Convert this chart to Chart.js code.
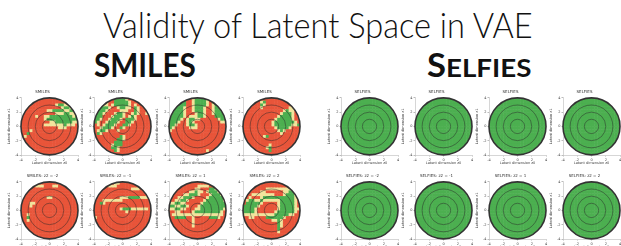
<!DOCTYPE html>
<html>
<head>
<meta charset="utf-8">
<script src="https://cdn.jsdelivr.net/npm/chart.js@4.4.1/dist/chart.umd.min.js"></script>
<style>
html, body { margin: 0; padding: 0; background: #fff; width: 621px; height: 246px; overflow: hidden; }
#stage { position: relative; width: 621px; height: 246px; }
.hd { position: absolute; white-space: nowrap; font-family: Lato, 'Open Sans', sans-serif; color: #111; line-height: 1; transform-origin: 0 0; }
canvas { position: absolute; }
</style>
</head>
<body>
<div id="stage">
  <div class="hd" id="title" style="left:103px; top:7px; font-size:35px; font-weight:300;">Validity of Latent Space in VAE</div>
  <div class="hd" id="smiles" style="left:94px; top:49px; font-size:32px; font-weight:700;">SMILES</div>
  <div class="hd" id="selfies" style="left:427px; top:49px; font-size:32px; font-weight:700;">S<span style="font-size:0.8em">ELFIES</span></div>
</div>
<script>
// validity grids, 20 x 20 cells over [-4, 4]^2, row 0 = top
// r = invalid, g = valid, y = boundary
const smilesTop1 = [
    'rrrrrrrrrrrrrrrrrrrr',
    'rrrrrrrrrrrrrrrrrrrr',
    'rrrrrrrrrrrryggyyrrr',
    'rrrrrrrrrrrrrryggyyr',
    'rrrrrrrrryyggggyyggr',
    'rrrrrrrrrrrryyyggyyg',
    'rrrrryrryyggggggggyg',
    'rrrrrrrryggggggggggg',
    'rrrrrrrrrryyggggggyy',
    'rrrrrrrryyyyyyygyyyr',
    'rrrrrrrrrrrrryyyrrrr',
    'rrryrrrrrrrrrrrrrrrr',
    'rrgrrrrrrrrrrrrrrrrr',
    'ryrrrrrrrrrrrrrrrrrr',
    'rrrrrrrrrrrrrrrrrrrr',
    'rrrrrrrrrrrrrrrrrrrr',
    'rrrrrrrrrrrrrrrrrrrr',
    'rrrrrrrrrrrrrrrrrrrr',
    'rrrrrrrrrrrrrrrrrrrr',
    'rrrrrrrrrrrrrrrrrrrr'
];
const smilesTop2 = [
    'rrrrrrrggggyrrrrrrrr',
    'rrrryrrgggggyrrrrrrr',
    'rrryyrygggggyryrrrrr',
    'rrgggyrryggyyrgyrrrr',
    'rgggyrrrryyyrrgyrrrr',
    'rggyrrryggyrrygyrryr',
    'gggrrrygggyrygyrrrrr',
    'ggyrrygggyrgggyrrrrr',
    'gyrrygggyrrggyrrrrrr',
    'ryrygggyrrggyrrrrrrr',
    'rrygggyrrgyrrrrrrrrr',
    'ryggyrrryrrrrrrrrrrr',
    'rgyrrrrrrrrrrrrrrrrr',
    'rrrrrrrrrgyrrrrrrrrr',
    'rrrrrrrrggyrrrrrrrrr',
    'rrrrrrrgggrrrrrrrrrr',
    'rrrrrrygggrrrrrrrrrr',
    'rrrrrrggyrrrrrrrrrrr',
    'rrrrrrrgyrrrrrrrrrrr',
    'rrrrrrrrrrrrrrrrrrrr'
];
const smilesTop3 = [
    'rrrrrrrryggggyrrrrrr',
    'ggggggrryggggyrggggg',
    'ggggggrryggggyrygggg',
    'gggggyrrygggyrrygggg',
    'gggggyrrygggyrrygggg',
    'gggggyrrryggyrrygggg',
    'gggggyryyyggyrrrgggg',
    'ggggyryggyyrrrrrrygg',
    'gggyrrygyrrrrrrrrryy',
    'ggyrrryggyrrrrrrrrrr',
    'gyrrrrryyyrrrrrrrrrr',
    'yrrrrrrrrrrrrrrrrrrr',
    'rrrrrrrrrrrrrrrrrrrr',
    'rrrrrrrrrrrrrrrrrrrr',
    'rrrrrrrrrrrrrrrrrrrr',
    'rrrrrrrrrrrrrrrrrrrr',
    'rrrrrrrrrrrrrrrrrrrr',
    'rrrrrrrrrrrrrrrrrrrr',
    'rrrrrrrrrrrrryrrrrrr',
    'rrrrrrrrrrrrrrrrrrrr'
];
const smilesTop4 = [
    'rrrrrrrrrrrrrrrrrrrr',
    'rrrrrrygrrrrrrrrrrrr',
    'rrrrrrgyrrrrrrrrrrrr',
    'rrrrrryrrrrrrrrryyrr',
    'rrrrrrrrrrrrrrygyyrr',
    'rrrrrrrrrrrrrygggyrr',
    'rrrrrrrrrrrryggggyrr',
    'rrrrrrrrrrrygggggyrr',
    'rrrrrrrrrrygggggggyr',
    'rrrrrrrrrryggggggyyg',
    'rrrrrrrrrrryggggyrrr',
    'rrrrrrrrrrrrygyrrrrr',
    'rrrrrrrrrrrrryrrrrrr',
    'rrrrrrrygrrrrrrrrrrr',
    'rrrrrrrrrrrrrrrrrrrr',
    'rrrrrrrrrrrrrrrrrrrr',
    'rrrrrrrrryrrrrrrrrrr',
    'rrrrrrrrygrrrrrrrrrr',
    'rrrrrrrrrgrrrrrrrrrr',
    'rrrrrrrrrrrrrrrrrrrr'
];
const smilesZm2 = [
    'rrrrrrrrrrrrrrrrrrrr',
    'rrrrryyyrrryyrrrrrrr',
    'rrrrrrrrrrrrrrrrrrrr',
    'rrrrrrrrrrrrrrrrrrrr',
    'rrrrrrrrrrrrrrrrrrrr',
    'rrrrrrrrryyrrrrrrrrr',
    'rrrrrrrrrrrrrrrrrrrr',
    'rrryyrrrrrrrrrrrrrrr',
    'rrryrrrrrrrrrrrrrrrr',
    'rrrrrrrrrrrrrrrrrrrr',
    'rrrrrrrrrrrrrrrrrrrr',
    'rryrrrrrrrrrrrrrrrrr',
    'rrgrrrrrrrrrrrrrrrrr',
    'rryrrrrrrrrrrrrrrrrr',
    'rrrrrrrrrrrrrrrrrrrr',
    'rrrrrrrrrrrrrrrrrrrr',
    'rrrrrrrrrrrrrrrrrrrr',
    'rrrrrrrrrrrrrrrrrrrr',
    'rrrrrrrrrrrrrrrrrrrr',
    'rrrrrrrrrrrrrrrrrrrr'
];
const smilesZm1 = [
    'rrrrrrryyrrrrrrrrrrr',
    'rrrrryyyrrrrrrrrrrrr',
    'rrrrrrrrrrrrryyyryrr',
    'rrrrrrrrrrrrrrrrrrrr',
    'rrrrrrrrrrrrrrrrrrrr',
    'rrrrrrrrryyyggggyyyr',
    'rrryyyyyyyrrrrrrrrrr',
    'rrgyrrrrrrrrrrrrrrrr',
    'rrrrrrrrrrrrrrrrrrrr',
    'rrrrrrrrrygggyyyyyyr',
    'rrrrrrrrrrryrrrrrrrr',
    'rrrrrrrrrrrrrrrrrrrr',
    'yrrrrrrrrrrrrrrrrrrr',
    'rrrrrrrrrrrrrrrrrrrr',
    'rrrrrrrrrrrrrrrrrrrr',
    'rrrrrrrrrrrrrrrrrrrr',
    'rrrrrrrrrrrrrrrrrrrr',
    'rrrrrrrrrrrrrrrrrrrr',
    'rrrrrrrrrrrrrrrrrrrr',
    'rrrrrrrrrrrrrrrrrrrr'
];
const smilesZp1 = [
    'rrrrrrrrrrrrrrrrrrrr',
    'rrrrrrrrrryyyyrrrrrr',
    'rrrrrrrrryyrrrggyrrr',
    'rrrrrrryygyyrygggyyr',
    'rrrrryygggyrrrygggyr',
    'rrryygggyrrrrygggggr',
    'rryyggyrrrrryggggggy',
    'yyggyyrrrrrygggggggg',
    'ggyyggyrrryggggggggg',
    'yyggyyrrryyggggggggy',
    'rryyrrrrygggggggggyr',
    'ryyyyyyyyyyyyyyyyyyr',
    'rrggggrryrrrrrgggyrr',
    'rrrrrrrryrrrrrrrrrrr',
    'rrrrrrrryrrrrrrrrrrr',
    'rrrrrrrryrrrrrrrrrrr',
    'rrrrrrrrrrrrrrrrrrrr',
    'rrrrrrrrrrrrrrrrrrrr',
    'rrrrrrrrrrrrrrrrrrrr',
    'rrrrrrrrrrrrrrrrrrrr'
];
const smilesZp2 = [
    'rrrrrrrrrrrrrrrrrrrr',
    'rrrrrrrrrrrrrrrrrrrr',
    'rrrrrrrryyyyyyyyyyrr',
    'rrrrrryyrrrrrryyggrr',
    'rrryyyyyyyyrrrygggyr',
    'rryrrrygggggggggggyr',
    'ryggyygyyyyyygggggyr',
    'rgggggyrrrrrygggggyr',
    'gggggyrrrrrrygggggyr',
    'ggggyrrrrrrrygggggyy',
    'ggggyrrrrrryggggggyr',
    'yyyyyyyyyyygggggyyrr',
    'rryyrrrrggggggyrrrrr',
    'rrrrrrrrrryygyrrrrrr',
    'rrrrrrrrrrrrgyrrrrrr',
    'rrrrrrrrrrrrgyrrrrrr',
    'rrrrrrrrrrrrgrrrrrrr',
    'rrrrrrrrrrrryrrrrrrr',
    'rrrrrrrrrrrrrrrrrrrr',
    'rrrrrrrrrrrrrrrrrrrr'
];
const selfiesAll = [
    'gggggggggggggggggggg',
    'gggggggggggggggggggg',
    'gggggggggggggggggggg',
    'gggggggggggggggggggg',
    'gggggggggggggggggggg',
    'gggggggggggggggggggg',
    'gggggggggggggggggggg',
    'gggggggggggggggggggg',
    'gggggggggggggggggggg',
    'gggggggggggggggggggg',
    'gggggggggggggggggggg',
    'gggggggggggggggggggg',
    'gggggggggggggggggggg',
    'gggggggggggggggggggg',
    'gggggggggggggggggggg',
    'gggggggggggggggggggg',
    'gggggggggggggggggggg',
    'gggggggggggggggggggg',
    'gggggggggggggggggggg',
    'gggggggggggggggggggg'
];

const panelTitles = [
    'SMILES', 'SMILES', 'SMILES', 'SMILES',
    'SELFIES', 'SELFIES', 'SELFIES', 'SELFIES',
    'SMILES: z2 = -2', 'SMILES: z2 = -1', 'SMILES: z2 = 1', 'SMILES: z2 = 2',
    'SELFIES: z2 = -2', 'SELFIES: z2 = -1', 'SELFIES: z2 = 1', 'SELFIES: z2 = 2'
];
const panelGrids = [
    smilesTop1, smilesTop2, smilesTop3, smilesTop4,
    selfiesAll, selfiesAll, selfiesAll, selfiesAll,
    smilesZm2, smilesZm1, smilesZp1, smilesZp2,
    selfiesAll, selfiesAll, selfiesAll, selfiesAll
];
const xTitle = 'Latent dimension z0';
const yTitle = 'Latent dimension z1';
const axisMin = -4;
const axisMax = 4;
const tickStep = 2;
const ringRadii = [1, 2, 3];

// layout
const colLeft = [21, 94, 169, 243, 341, 415, 489, 563];
const rowTop = [98, 182];
const stateColors = { r: '#e8553a', g: '#4caf50', y: '#f1e49c' };
const tinyFont = 'DejaVu Sans';

function fitWidth(id, w) {
    const el = document.getElementById(id);
    el.style.transform = 'scaleX(' + (w / el.offsetWidth) + ')';
}
fitWidth('title', 430);
fitWidth('smiles', 102);
fitWidth('selfies', 104);

const cellPlugin = {
    id: 'cells',
    beforeDatasetsDraw(chart) {
        const { ctx } = chart;
        const xs = chart.scales.x, ys = chart.scales.y;
        const cx = xs.getPixelForValue(0), cy = ys.getPixelForValue(0);
        const r = Math.min(xs.getPixelForValue(axisMax) - cx, cy - ys.getPixelForValue(axisMax));
        const half = chart.data.datasets[0].cellHalf;
        ctx.save();
        ctx.beginPath();
        ctx.arc(cx, cy, r, 0, Math.PI * 2);
        ctx.clip();
        chart.data.datasets[0].data.forEach(c => {
            const x0 = xs.getPixelForValue(c.x - half), x1 = xs.getPixelForValue(c.x + half);
            const y0 = ys.getPixelForValue(c.y + half), y1 = ys.getPixelForValue(c.y - half);
            ctx.fillStyle = stateColors[c.v] || stateColors.r;
            ctx.fillRect(x0, y0, x1 - x0 + 0.5, y1 - y0 + 0.5);
        });
        ctx.strokeStyle = 'rgba(40,40,40,0.8)';
        ctx.lineWidth = 0.6;
        ringRadii.forEach(rr => {
            ctx.beginPath();
            ctx.arc(cx, cy, xs.getPixelForValue(rr) - cx, 0, Math.PI * 2);
            ctx.stroke();
        });
        ctx.restore();
        ctx.save();
        ctx.strokeStyle = '#333';
        ctx.lineWidth = 1.6;
        ctx.beginPath();
        ctx.arc(cx, cy, r, 0, Math.PI * 2);
        ctx.stroke();
        ctx.restore();
    }
};

function cellsFromGrid(grid) {
    const n = grid.length;
    const step = (axisMax - axisMin) / n;
    const cells = [];
    grid.forEach((row, i) => {
        for (let j = 0; j < row.length; j++) {
            cells.push({ x: axisMin + step * (j + 0.5), y: axisMax - step * (i + 0.5), v: row[j] });
        }
    });
    return { cells: cells, half: step / 2 };
}

const stage = document.getElementById('stage');
panelTitles.forEach((title, k) => {
    const row = Math.floor(k / 8), col = k % 8;
    const canvas = document.createElement('canvas');
    canvas.width = 85;
    canvas.height = 75;
    stage.appendChild(canvas);
    const g = cellsFromGrid(panelGrids[k]);
    const axisCommon = {
        min: axisMin,
        max: axisMax,
        ticks: { stepSize: tickStep, font: { size: 3.5, family: tinyFont }, color: '#444', padding: 1 },
        grid: { display: true, drawOnChartArea: false, drawTicks: true, tickLength: 1.5, color: '#bbb' },
        border: { display: true, color: '#bbb', width: 0.6 }
    };
    const chart = new Chart(canvas, {
        type: 'scatter',
        data: { datasets: [{ data: g.cells, cellHalf: g.half, pointRadius: 0 }] },
        options: {
            responsive: false,
            maintainAspectRatio: false,
            animation: false,
            events: [],
            layout: { padding: { left: 0, right: 14, top: 0, bottom: 0 } },
            plugins: {
                legend: { display: false },
                tooltip: { enabled: false },
                title: {
                    display: true,
                    text: title,
                    color: '#333',
                    font: { size: 4, family: tinyFont, weight: 'normal' },
                    padding: { top: 0, bottom: 3 }
                }
            },
            scales: {
                x: Object.assign({}, axisCommon, {
                    title: { display: true, text: xTitle, color: '#444', font: { size: 3.5, family: tinyFont }, padding: 0 },
                    afterFit: s => { s.height = 10; }
                }),
                y: Object.assign({}, axisCommon, {
                    title: { display: true, text: yTitle, color: '#444', font: { size: 3.5, family: tinyFont }, padding: 0 },
                    afterFit: s => { s.width = 14; }
                })
            }
        },
        plugins: [cellPlugin]
    });
    canvas.style.left = (colLeft[col] - chart.chartArea.left) + 'px';
    canvas.style.top = (rowTop[row] - chart.chartArea.top) + 'px';
});
</script>
</body>
</html>
